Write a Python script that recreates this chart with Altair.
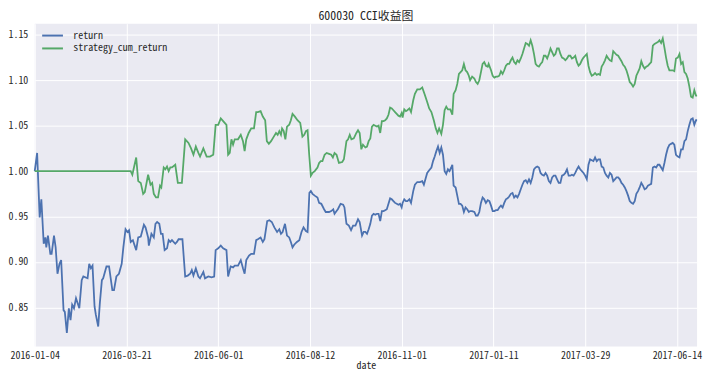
import altair as alt
import pandas as pd

FONT = "Noto Sans Mono CJK SC, Noto Sans CJK SC, DejaVu Sans Mono"

title_text = "600030 CCI收益图"
series_names = ["return", "strategy_cum_return"]
series_colors = ["#4C72B0", "#55A868"]

# x tick positions (trading-day index) and their date labels
tick_pos = [0, 50, 100, 150, 200, 250, 300, 350]
tick_labels = ["2016-01-04", "2016-03-21", "2016-06-01", "2016-08-12",
               "2016-11-01", "2017-01-11", "2017-03-29", "2017-06-14"]
y_ticks = [0.85, 0.90, 0.95, 1.00, 1.05, 1.10, 1.15]

ret_idx = [0, 1.3, 2.7, 3.6, 4.9, 5.8, 6.3, 7.2, 8.5, 9.2, 10.5, 11.4, 12.4, 13.5, 14.4, 15.7, 16.4, 17.5,
           18.6, 19.5, 20.4, 21.4, 22.5, 24.3, 25.6, 26.5, 28.8, 29.7, 30.6, 31.5, 32.6, 33.3, 34.6, 35.5,
           36.6, 37.3, 39.1, 40.5, 42.3, 43.2, 44.5, 45.9, 47.4, 48.3, 49.5, 50.5, 51.4, 52.3, 53.5, 55.3,
           56.4, 57.8, 59.5, 60.4, 61.8,
           62.2, 63.6, 64.9, 65.8, 66.7, 67.9, 68.8, 69.7, 70.8, 72.1, 73.0, 73.9, 74.8, 76.6, 77.5, 78.4,
           80.5, 82.0, 83.4, 84.7, 85.6, 86.5, 87.8, 89.2, 90.1, 91.9, 92.8, 94.6, 96.4, 97.8, 98.6, 100.0,
           101.4, 102.7, 104.5, 105.4, 106.8, 108.1, 109.0, 110.8, 112.3, 113.5, 114.4, 115.3, 116.8, 118.0,
           119.5, 120.7,
           121.6, 123.1, 124.3, 125.2, 126.7, 127.9, 129.2, 130.6, 132.1, 133.3, 134.2, 135.1, 136.4, 137.5,
           138.7, 139.6, 140.5, 141.4, 142.9, 144.2, 145.4, 146.5, 147.8, 148.7, 149.7, 150.5, 151.4, 152.6,
           154.1, 155.0, 156.2, 157.7, 158.6, 160.4, 161.6, 162.7, 163.4, 164.5, 165.2, 166.7, 168.1, 168.8,
           169.9, 171.2, 172.4, 173.5, 174.8, 176.2, 177.1, 178.4, 179.3, 180.2, 181.1,
           182.0, 182.9, 183.8, 184.7, 185.6, 186.5, 187.4, 188.3, 189.2, 190.1, 191.0, 191.9, 192.8, 193.7,
           194.6, 195.5, 196.4, 197.3, 198.2, 199.1, 200.0, 200.5, 201.4, 202.3, 203.1, 204.2, 205.1, 206.3,
           207.2, 208.5, 209.9, 211.2, 212.1, 213.2, 213.9, 215.0, 216.2, 217.1, 218.0, 218.9, 219.8, 220.7,
           221.6, 222.5, 223.4, 224.3, 225.2, 226.1, 227.0, 227.6, 228.3, 229.4, 230.3, 231.2, 232.1, 233.0,
           233.9, 234.8, 235.7, 236.6, 237.3, 238.4, 239.6, 240.5,
           241.4, 242.3, 243.2, 244.1, 245.0, 245.9, 246.9, 247.8, 248.7, 249.6, 250.5, 251.4, 252.3, 253.2,
           254.1, 255.0, 255.9, 256.8, 257.7, 258.6, 259.5, 260.4, 261.3, 262.2, 263.1, 264.0, 264.9, 265.8,
           266.7, 267.6, 268.5, 269.4, 270.3, 271.2, 272.1, 273.0, 273.9, 274.8, 275.7, 276.6, 277.5, 278.4,
           279.3, 280.2, 281.1, 282.0, 282.9, 283.8, 284.7, 285.6, 286.5, 287.4, 288.3, 289.2, 290.1, 291.0,
           291.9, 292.8, 293.7, 294.6, 295.5, 296.4, 297.3, 298.2, 299.1, 300.0,
           300.9, 301.8, 302.7, 303.6, 304.5, 305.4, 306.3, 307.2, 308.1, 309.0, 309.9, 310.8, 311.7, 312.6,
           313.5, 314.4, 315.3, 316.2, 317.1, 318.0, 318.9, 319.8, 320.7, 321.6, 322.5, 323.4, 324.3, 325.2,
           326.1, 327.0, 327.9, 328.8, 329.7, 330.6, 331.5, 332.4, 333.3, 334.2, 335.1, 336.0, 336.9, 337.8,
           338.7, 339.6, 340.5, 341.4, 342.3, 343.2, 344.1, 345.0, 345.9, 346.8, 347.7, 348.6, 349.5, 350.5,
           351.4, 352.3, 353.2, 354.1, 355.0, 355.9, 356.8, 357.7, 358.6, 359.5, 360.4, 361.0]
ret_val = [1.000, 1.020, 0.949, 0.969, 0.920, 0.927, 0.916, 0.929, 0.909, 0.909, 0.929, 0.916, 0.887, 0.898,
           0.902, 0.847, 0.845, 0.822, 0.849, 0.836, 0.853, 0.849, 0.860, 0.849, 0.880, 0.884, 0.882, 0.898,
           0.893, 0.896, 0.851, 0.842, 0.829, 0.855, 0.880, 0.882, 0.895, 0.895, 0.869, 0.869, 0.884, 0.887,
           0.898, 0.916, 0.936, 0.933, 0.935, 0.922, 0.924, 0.913, 0.927, 0.928, 0.941, 0.938, 0.927,
           0.918, 0.931, 0.927, 0.942, 0.944, 0.942, 0.931, 0.931, 0.913, 0.915, 0.924, 0.922, 0.924, 0.920,
           0.922, 0.925, 0.925, 0.884, 0.885, 0.887, 0.891, 0.885, 0.893, 0.884, 0.882, 0.889, 0.882, 0.884,
           0.883, 0.884, 0.913, 0.915, 0.918, 0.915, 0.913, 0.884, 0.895, 0.894, 0.896, 0.896, 0.902, 0.893,
           0.887, 0.902, 0.907, 0.909, 0.909, 0.924,
           0.925, 0.927, 0.922, 0.925, 0.945, 0.946, 0.944, 0.938, 0.933, 0.936, 0.931, 0.933, 0.942, 0.929,
           0.927, 0.922, 0.916, 0.919, 0.922, 0.924, 0.933, 0.938, 0.934, 0.933, 0.976, 0.978, 0.975, 0.973,
           0.971, 0.965, 0.964, 0.958, 0.955, 0.955, 0.956, 0.958, 0.953, 0.956, 0.958, 0.964, 0.963, 0.960,
           0.942, 0.940, 0.935, 0.940, 0.940, 0.947, 0.944, 0.929, 0.933, 0.933, 0.931,
           0.936, 0.942, 0.951, 0.953, 0.952, 0.953, 0.953, 0.945, 0.956, 0.956, 0.957, 0.958, 0.964, 0.970,
           0.969, 0.967, 0.965, 0.964, 0.963, 0.964, 0.960, 0.965, 0.969, 0.967, 0.967, 0.969, 0.965, 0.978,
           0.985, 0.988, 0.988, 0.989, 0.985, 0.993, 0.998, 1.001, 1.004, 1.011, 1.016, 1.022, 1.027, 1.020,
           1.026, 1.018, 1.000, 0.997, 1.002, 1.000, 1.004, 1.007, 0.984, 0.982, 0.973, 0.964, 0.964, 0.962,
           0.955, 0.960, 0.958, 0.955, 0.956, 0.956, 0.955, 0.951,
           0.951, 0.955, 0.965, 0.971, 0.969, 0.965, 0.968, 0.967, 0.962, 0.956, 0.956, 0.957, 0.957, 0.960,
           0.962, 0.960, 0.965, 0.969, 0.970, 0.972, 0.975, 0.976, 0.971, 0.973, 0.971, 0.975, 0.980, 0.985,
           0.989, 0.990, 0.987, 0.991, 0.987, 0.993, 1.002, 1.004, 1.005, 1.004, 0.998, 0.996, 0.995, 0.998,
           0.995, 0.989, 0.987, 0.993, 0.995, 0.995, 0.991, 0.987, 0.987, 0.995, 0.996, 0.998, 1.002, 0.995,
           0.995, 0.996, 0.995, 0.998, 1.002, 1.005, 1.002, 1.000, 0.998, 0.995,
           0.991, 1.007, 1.013, 1.012, 1.011, 1.015, 1.011, 1.013, 1.013, 1.005, 1.004, 0.998, 0.995, 0.993,
           0.998, 0.996, 0.989, 0.991, 0.993, 0.993, 0.991, 0.987, 0.985, 0.982, 0.978, 0.973, 0.967, 0.965,
           0.964, 0.967, 0.975, 0.978, 0.982, 0.987, 0.984, 0.980, 0.981, 0.984, 0.985, 0.986, 1.004, 1.005,
           1.004, 1.007, 1.007, 1.004, 1.001, 1.009, 1.018, 1.025, 1.029, 1.030, 1.031, 1.029, 1.018, 1.016,
           1.015, 1.024, 1.024, 1.033, 1.035, 1.044, 1.051, 1.057, 1.058, 1.051, 1.056, 1.056]

cum_idx = [0, 52.3, 53.2, 55.3, 56.4, 57.8, 59.1, 60.0, 61.8,
           63.1, 64.0, 64.9, 66.1, 67.2, 68.3, 69.0, 70.3, 71.2, 72.1, 73.0, 73.9, 74.8, 76.6, 78.0, 80.2,
           82.0, 83.8, 85.2, 86.5, 87.8, 89.2, 90.1, 91.9, 93.7, 95.5, 97.3, 98.6, 100.0, 101.4, 102.7, 104.5,
           105.4, 106.3, 107.2, 108.1, 109.0, 110.8, 112.3, 113.5, 114.4, 115.3, 116.6, 118.0, 119.5, 120.7,
           121.6,
           123.1, 124.3, 125.6, 126.5, 127.6, 128.8, 130.3, 131.5, 132.4, 133.3, 134.2, 134.8, 135.7, 136.6,
           137.5, 138.7, 139.6, 140.5, 141.8, 143.2, 144.7, 145.9, 146.9, 147.8, 148.7, 149.6, 150.5, 151.4,
           152.6, 154.1, 155.0, 155.9, 156.8, 158.0, 159.1, 160.4, 161.6, 162.5, 163.4, 164.5, 165.8, 167.6,
           168.5, 169.9, 170.8, 171.7, 172.6, 173.9, 175.3, 176.2, 177.1, 178.0, 178.9, 180.2, 181.1,
           182.0, 182.9, 183.8, 184.7, 185.6, 186.5, 187.4, 188.3, 189.2, 190.1, 191.0, 191.9, 192.8, 193.7,
           194.6, 195.5, 196.4, 197.3, 198.2, 199.1, 200.0, 200.5, 201.4, 202.3, 203.1, 204.2, 205.1, 206.3,
           207.2, 208.5, 209.9, 211.2, 212.6, 213.9, 215.0, 216.2, 217.5, 218.6, 219.5, 220.4, 221.6, 222.5,
           223.4, 224.3, 225.2, 226.5, 227.6, 228.3, 229.4, 230.3, 231.2, 232.1, 233.0, 233.9, 234.8, 235.7,
           236.6, 237.3, 238.4, 239.6, 240.5,
           241.4, 242.3, 243.2, 244.1, 245.0, 245.9, 246.9, 247.4, 248.7, 249.6, 250.5, 251.4, 252.3, 253.2,
           254.1, 255.0, 255.9, 256.8, 257.7, 258.6, 259.5, 260.4, 261.3, 262.2, 263.1, 264.0, 264.9, 265.8,
           266.7, 267.6, 268.5, 269.4, 270.3, 271.2, 272.1, 273.0, 273.9, 274.8, 275.7, 276.6, 277.5, 278.4,
           279.3, 280.2, 281.1, 282.0, 282.9, 283.8, 284.7, 285.6, 286.5, 287.4, 288.3, 289.2, 290.1, 291.0,
           291.9, 292.8, 293.7, 294.6, 295.5, 296.4, 297.3, 298.2, 299.1, 300.0,
           300.9, 301.8, 302.7, 303.6, 304.5, 305.4, 306.3, 307.2, 308.1, 309.0, 309.9, 310.8, 311.7, 312.6,
           313.5, 314.4, 315.3, 316.2, 317.1, 318.0, 318.9, 319.8, 320.7, 321.6, 322.5, 323.4, 324.3, 325.2,
           326.1, 327.0, 327.9, 328.8, 329.7, 330.6, 331.5, 332.4, 333.3, 334.2, 335.1, 336.0, 336.9, 337.8,
           338.7, 339.6, 340.5, 341.4, 342.3, 343.2, 344.1, 345.0, 345.9, 346.8, 347.7, 348.6, 349.5, 350.5,
           351.4, 352.3, 353.2, 354.1, 355.0, 355.9, 356.8, 357.7, 358.6, 359.5, 360.4, 361.0]
cum_val = [1.000, 1.000, 0.996, 1.015, 0.989, 0.987, 0.975, 0.977, 0.996,
           0.985, 0.987, 0.975, 0.971, 0.971, 0.984, 0.982, 1.004, 1.002, 1.005, 1.000, 1.004, 1.004, 1.007,
           0.987, 0.987, 1.035, 1.031, 1.025, 1.018, 1.027, 1.020, 1.016, 1.025, 1.016, 1.016, 1.018, 1.051,
           1.051, 1.058, 1.055, 1.051, 1.018, 1.020, 1.035, 1.029, 1.035, 1.035, 1.040, 1.033, 1.022, 1.035,
           1.042, 1.047, 1.047, 1.065, 1.065,
           1.066, 1.060, 1.056, 1.033, 1.030, 1.033, 1.038, 1.042, 1.040, 1.044, 1.040, 1.047, 1.044, 1.035,
           1.049, 1.051, 1.056, 1.063, 1.060, 1.056, 1.053, 1.038, 1.040, 1.044, 1.045, 1.018, 0.995, 0.998,
           1.000, 1.004, 1.009, 1.011, 1.011, 1.018, 1.020, 1.019, 1.018, 1.015, 1.020, 1.018, 1.009, 1.010,
           1.013, 1.033, 1.035, 1.040, 1.035, 1.036, 1.042, 1.045, 1.042, 1.024, 1.029, 1.026, 1.027,
           1.033, 1.036, 1.049, 1.051, 1.050, 1.049, 1.050, 1.042, 1.055, 1.055, 1.056, 1.058, 1.062, 1.070,
           1.069, 1.067, 1.065, 1.063, 1.061, 1.060, 1.064, 1.059, 1.068, 1.066, 1.067, 1.069, 1.065, 1.078,
           1.085, 1.090, 1.090, 1.092, 1.084, 1.076, 1.069, 1.065, 1.056, 1.047, 1.042, 1.047, 1.041, 1.051,
           1.067, 1.071, 1.068, 1.068, 1.062, 1.085, 1.089, 1.096, 1.107, 1.109, 1.111, 1.118, 1.111, 1.109,
           1.105, 1.100, 1.104, 1.102, 1.098,
           1.096, 1.100, 1.109, 1.118, 1.120, 1.116, 1.115, 1.118, 1.111, 1.105, 1.103, 1.104, 1.104, 1.105,
           1.110, 1.107, 1.111, 1.116, 1.118, 1.118, 1.122, 1.125, 1.120, 1.118, 1.122, 1.120, 1.124, 1.129,
           1.135, 1.141, 1.140, 1.138, 1.144, 1.138, 1.129, 1.118, 1.116, 1.115, 1.118, 1.120, 1.127, 1.127,
           1.124, 1.129, 1.135, 1.131, 1.127, 1.129, 1.135, 1.135, 1.129, 1.125, 1.124, 1.122, 1.124, 1.127,
           1.127, 1.124, 1.125, 1.127, 1.120, 1.116, 1.118, 1.122, 1.125, 1.127,
           1.129, 1.116, 1.109, 1.105, 1.106, 1.108, 1.106, 1.107, 1.106, 1.115, 1.118, 1.122, 1.127, 1.124,
           1.122, 1.121, 1.132, 1.130, 1.128, 1.127, 1.124, 1.121, 1.117, 1.115, 1.111, 1.105, 1.098, 1.096,
           1.093, 1.096, 1.105, 1.109, 1.113, 1.121, 1.116, 1.113, 1.115, 1.116, 1.118, 1.120, 1.138, 1.140,
           1.141, 1.142, 1.144, 1.141, 1.146, 1.136, 1.125, 1.116, 1.111, 1.111, 1.111, 1.110, 1.124, 1.125,
           1.129, 1.118, 1.120, 1.109, 1.107, 1.102, 1.093, 1.082, 1.081, 1.089, 1.083, 1.083]

df = pd.concat([
    pd.DataFrame({"idx": ret_idx, "value": ret_val, "series": series_names[0]}),
    pd.DataFrame({"idx": cum_idx, "value": cum_val, "series": series_names[1]}),
], ignore_index=True)

label_expr = "[" + ",".join("'%s'" % s for s in tick_labels) + "][round(datum.value / 50)]"

chart = alt.Chart(df).mark_line(strokeWidth=1.8).encode(
    x=alt.X("idx:Q",
            scale=alt.Scale(domain=[0, 361], nice=False, zero=False),
            axis=alt.Axis(values=tick_pos, labelExpr=label_expr, title="date",
                          labelFlush=False, labelOverlap=False, labelPadding=4,
                          titlePadding=0)),
    y=alt.Y("value:Q",
            scale=alt.Scale(domain=[0.807, 1.1623], nice=False, zero=False),
            axis=alt.Axis(values=y_ticks, format=".2f", title=None, labelPadding=7)),
    color=alt.Color("series:N",
                    scale=alt.Scale(domain=series_names, range=series_colors),
                    legend=alt.Legend(title=None, orient="none", legendX=10, legendY=4,
                                      symbolType="M-1.5,0L1.5,0", symbolSize=196,
                                      symbolStrokeWidth=2, labelFontSize=10, labelFont=FONT,
                                      labelColor="#262626", labelOffset=13, padding=0,
                                      rowPadding=-2)),
    order="idx:Q",
).properties(
    width=669,
    height=326,
    title=alt.TitleParams(title_text, fontSize=12, font=FONT, fontWeight="normal",
                          color="#262626", offset=1),
    autosize=alt.AutoSizeParams(type="none"),
    padding={"left": 27, "top": 14, "right": 8, "bottom": 26},
).configure_view(
    fill="#EAEAF2", strokeWidth=0
).configure_axis(
    labelFont=FONT, labelFontSize=10, labelColor="#262626",
    titleFont=FONT, titleFontSize=10, titleColor="#262626", titleFontWeight="normal",
    gridColor="white", gridWidth=1, gridOpacity=1,
    domain=False, ticks=False,
)

chart.save("out.html", embed_options={"renderer": "svg", "actions": False})
